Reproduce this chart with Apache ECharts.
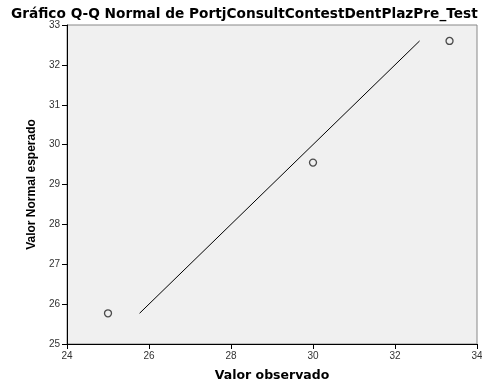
<!DOCTYPE html>
<html><head><meta charset="utf-8">
<script src="https://cdn.jsdelivr.net/npm/echarts@6/dist/echarts.min.js"></script>
<style>html,body{margin:0;padding:0;background:#fff}#c{width:482px;height:383px}</style>
</head><body><div id="c"></div>
<script>
const titleText = "Gráfico Q-Q Normal de PortjConsultContestDentPlazPre_Test";
const xName = "Valor observado";
const yName = "Valor Normal esperado";
const observed = [25, 30, 33.33];
const expected = [25.77, 29.55, 32.6];
const refLineX = [25.77, 32.6];
const refLineY = [25.77, 32.6];

const chart = echarts.init(document.getElementById('c'));
const font = '"Liberation Sans", Arial, sans-serif';
chart.setOption({
  animation: false,
  title: {
    text: titleText, left: 6, top: 2,
    textStyle: {fontFamily: '"DejaVu Sans", sans-serif', fontSize: 13.7, fontWeight: 'bold', color: '#000'}
  },
  grid: {left: 67, top: 25, right: 5, bottom: 39, show: true, outerBoundsMode: 'none', containLabel: false,
    backgroundColor: '#f0f0f0', borderColor: '#888', borderWidth: 1},
  xAxis: {
    type: 'value', min: 24, max: 34, interval: 2,
    name: xName, nameLocation: 'middle', nameGap: 25,
    nameTextStyle: {fontFamily: '"DejaVu Sans", sans-serif', fontSize: 12.5, fontWeight: 'bold', color: '#000'},
    axisLine: {show: true, onZero: false, lineStyle: {color: '#000', width: 1}},
    axisTick: {show: true, inside: false, length: 5, lineStyle: {color: '#000'}},
    axisLabel: {fontFamily: font, fontSize: 10, color: '#333', margin: 7},
    splitLine: {show: false}
  },
  yAxis: {
    type: 'value', min: 25, max: 33, interval: 1,
    name: yName, nameLocation: 'middle', nameGap: 18,
    nameTextStyle: {fontFamily: font, fontSize: 12, fontWeight: 'bold', color: '#000'},
    axisLine: {show: true, onZero: false, lineStyle: {color: '#000', width: 1}},
    axisTick: {show: true, inside: false, length: 5, lineStyle: {color: '#000'}},
    axisLabel: {fontFamily: font, fontSize: 10, color: '#333', margin: 7},
    splitLine: {show: false}
  },
  series: [
    {type: 'line', data: refLineX.map((x, i) => [x, refLineY[i]]), showSymbol: false,
      lineStyle: {color: '#000', width: 1}, silent: true},
    {type: 'scatter', data: observed.map((x, i) => [x, expected[i]]),
      symbol: 'circle', symbolSize: 7,
      itemStyle: {color: '#f0f0f0', borderColor: '#222', borderWidth: 1.3}}
  ]
});
</script></body></html>
